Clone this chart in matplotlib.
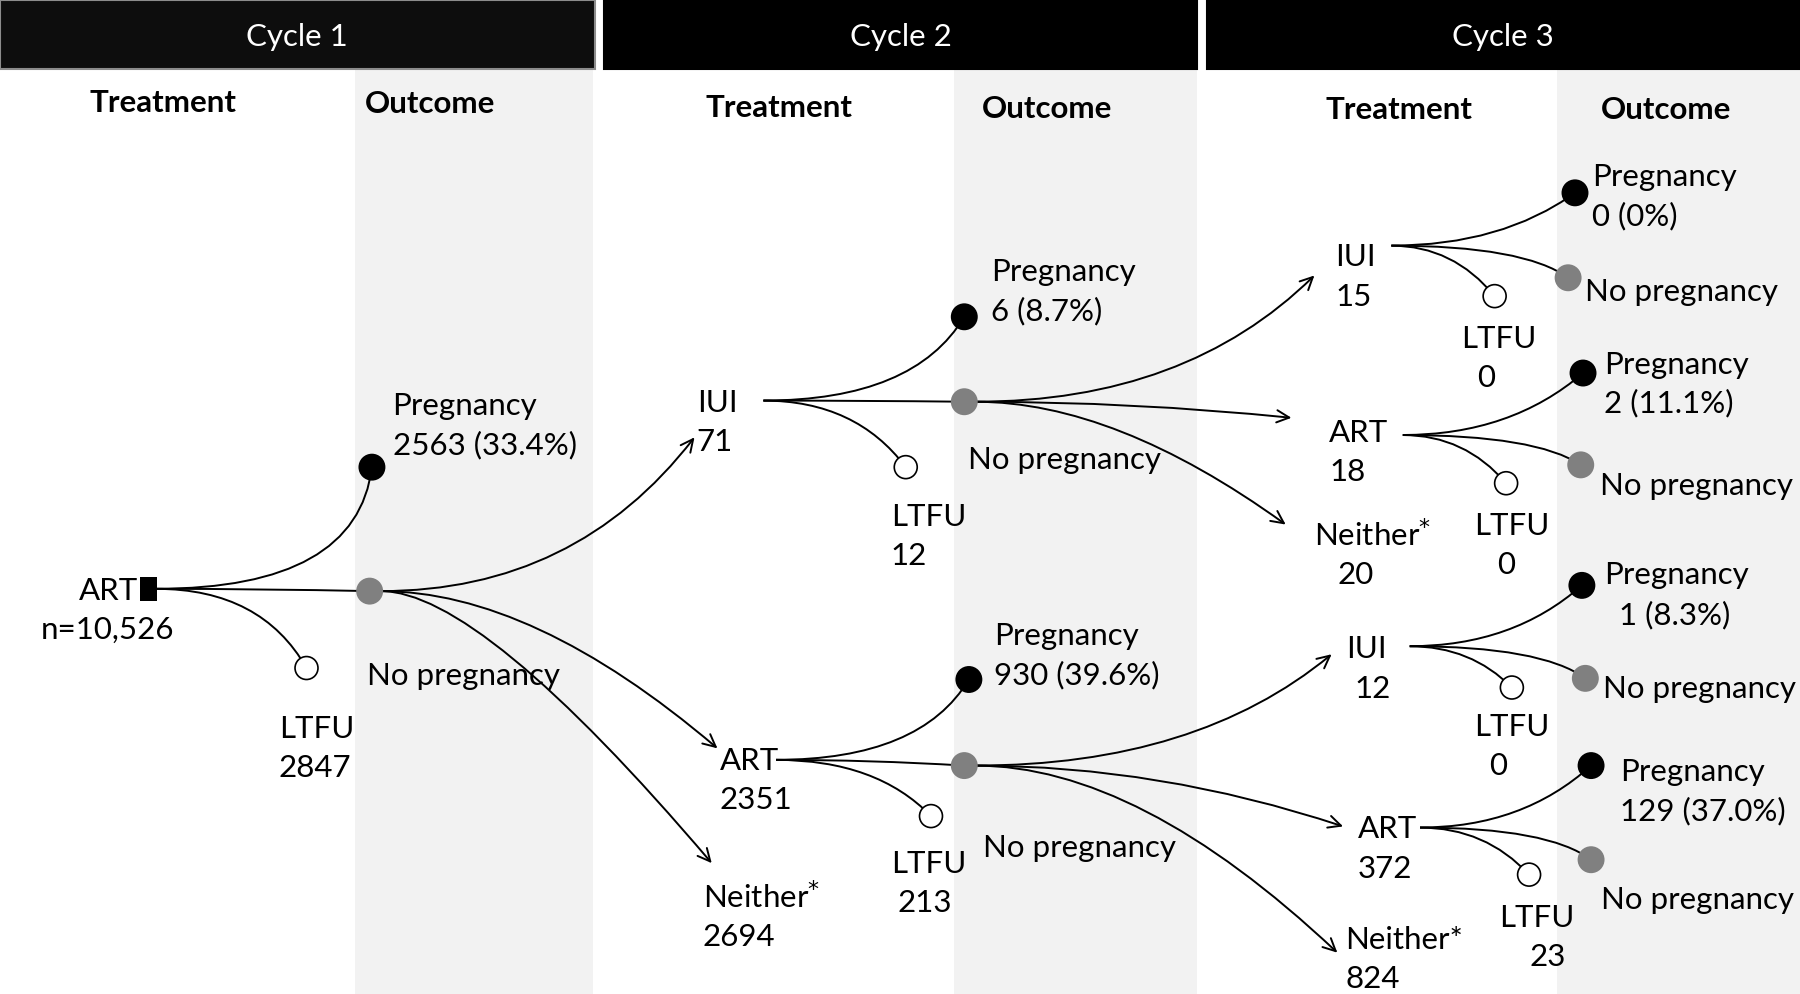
import matplotlib
matplotlib.use("Agg")
import matplotlib.pyplot as plt
from matplotlib.patches import Rectangle, Circle, FancyArrowPatch, PathPatch
from matplotlib.path import Path

plt.rcParams["font.family"] = ["Lato", "DejaVu Sans"]

# ---- data -------------------------------------------------------------
cycles = ["Cycle 1", "Cycle 2", "Cycle 3"]
start_n = 10526
c1_preg, c1_pct, c1_ltfu = 2563, 33.4, 2847

c2_treat = ["IUI", "ART", "Neither$^{*}$"]
c2_n = [71, 2351, 2694]
c2_preg = [6, 930]
c2_pct = [8.7, 39.6]
c2_ltfu = [12, 213]

c3_treat = ["IUI", "ART", "Neither$^{*}$", "IUI", "ART", "Neither*"]
c3_n = [15, 18, 20, 12, 372, 824]
c3_preg = [0, 2, 1, 129]
c3_pct = ["0%", "11.1%", "8.3%", "37.0%"]
c3_ltfu = [0, 0, 0, 23]

# ---- layout (reference pixel grid 1568 x 866) -------------------------
FS = 22.5
fig = plt.figure(figsize=(18, 9.94), dpi=100)
ax = fig.add_axes([0, 0, 1, 1])
ax.set_xlim(0, 1568)
ax.set_ylim(866, 0)
ax.axis("off")

bars = [(0, 518), (526, 1043), (1051, 1568)]
bands = [(309, 517), (831, 1043), (1356, 1568)]
for (x0, x1), name in zip(bars, cycles):
    ec = "#8c8c8c" if name == "Cycle 1" else "black"
    fc = "#0d0d0d" if name == "Cycle 1" else "black"
    ax.add_patch(Rectangle((x0, 0), x1 - x0, 60, fc=fc, ec=ec, lw=1.5, zorder=2))
    ax.text((x0 + x1) / 2, 32, name, color="white", fontsize=FS,
            ha="center", va="center", zorder=3)
for x0, x1 in bands:
    ax.add_patch(Rectangle((x0, 61), x1 - x0, 866 - 61, fc="#f2f2f2",
                           ec="none", zorder=0))

heads = [(142, 90, 375, 91), (679, 94, 912, 95), (1219, 96, 1451, 96)]
for tx, ty, ox, oy in heads:
    ax.text(tx, ty, "Treatment", fontsize=FS, fontweight="bold",
            ha="center", va="center")
    ax.text(ox, oy, "Outcome", fontsize=FS, fontweight="bold",
            ha="center", va="center")


def curve(p0, p1, k=0.6, arrow=False):
    (x0, y0), (x1, y1) = p0, p1
    c = (x0 + k * (x1 - x0), y0)
    path = Path([p0, c, p1], [Path.MOVETO, Path.CURVE3, Path.CURVE3])
    if arrow:
        ax.add_patch(FancyArrowPatch(path=path, arrowstyle="->,head_length=0.45,head_width=0.22",
                                     mutation_scale=20, lw=1.4, color="black", zorder=1))
    else:
        ax.add_patch(PathPatch(path, fc="none", ec="black", lw=1.4, zorder=1))


def dot(p, kind, r=11):
    fc = {"preg": "black", "nopreg": "#808080", "ltfu": "white"}[kind]
    ec = "black" if kind == "ltfu" else fc
    ax.add_patch(Circle(p, r if kind != "ltfu" else 10, fc=fc, ec=ec, lw=1.2, zorder=4))


def txt(x, y, s, ha="left"):
    ax.text(x, y, s, fontsize=FS, ha=ha, va="center", zorder=5)


def branch(start, preg, nopreg, ltfu, kp=0.8, kl=0.6, kn=0.5):
    curve(start, preg, kp)
    curve(start, ltfu, kl)
    curve(start, nopreg, kn)
    dot(preg, "preg")
    dot(nopreg, "nopreg")
    dot(ltfu, "ltfu")


# ---- cycle 1 ----------------------------------------------------------
branch((136, 513), (324, 407), (322, 515), (267, 582), kp=0.93, kl=0.7)
ax.add_patch(Rectangle((122, 503), 15, 21, fc="black", ec="none", zorder=4))
txt(120, 515, "ART", ha="right")
txt(94, 549, f"n={start_n:,}", ha="center")
txt(342, 354, "Pregnancy")
txt(342, 388, f"{c1_preg} ({c1_pct}%)")
txt(320, 589, "No pregnancy")
txt(243, 635, "LTFU")
txt(243, 669, f"{c1_ltfu}")

c1_src = (332, 515)
for tgt, k in zip([(605, 381), (625, 652), (620, 752)], [0.62, 0.45, 0.3]):
    curve(c1_src, tgt, k, arrow=True)

# ---- cycle 2 ----------------------------------------------------------
c2_lab = [(607, 351), (627, 663), (612, 782)]
for (x, y), t, n in zip(c2_lab, c2_treat, c2_n):
    txt(x, y, t)
    txt(x, y + 34, f"{n}")

c2_start = [(665, 349), (676, 662)]
c2_dots = [((840, 276), (840, 350), (789, 407)),
           ((844, 592), (840, 667), (811, 711))]
for s, (p, n, l) in zip(c2_start, c2_dots):
    branch(s, p, n, l, kp=0.75, kl=0.65, kn=0.5)

c2_preg_lab = [(863, 237), (866, 554)]
c2_nop_lab = [(843, 401), (856, 739)]
c2_ltfu_lab = [((776, 450), (776, 484)), ((776, 753), (782, 787))]
for i in range(2):
    x, y = c2_preg_lab[i]
    txt(x, y, "Pregnancy")
    txt(x, y + 34, f"{c2_preg[i]} ({c2_pct[i]}%)")
    txt(*c2_nop_lab[i], "No pregnancy")
    txt(*c2_ltfu_lab[i][0], "LTFU")
    txt(*c2_ltfu_lab[i][1], f"{c2_ltfu[i]}")

c2_src = [(850, 350), (850, 667)]
c2_tgts = [[(1145, 240), (1125, 364), (1120, 457)],
           [(1160, 570), (1170, 720), (1165, 830)]]
for s, tg in zip(c2_src, c2_tgts):
    for t, k in zip(tg, [0.62, 0.5, 0.45]):
        curve(s, t, k, arrow=True)

# ---- cycle 3 ----------------------------------------------------------
c3_lab = [((1163, 224), (1163, 259)), ((1158, 377), (1158, 411)),
          ((1145, 466), (1165, 501)), ((1173, 565), (1180, 600)),
          ((1183, 722), (1183, 757)), ((1172, 819), (1172, 853))]
for (a, b), t, n in zip(c3_lab, c3_treat, c3_n):
    txt(*a, t)
    txt(*b, f"{n}")

c3_start = [(1212, 214), (1222, 379), (1228, 563), (1237, 721)]
c3_dots = [((1372, 168), (1366, 242), (1302, 258)),
           ((1379, 325), (1377, 405), (1312, 421)),
           ((1378, 510), (1381, 591), (1317, 599)),
           ((1386, 667), (1386, 749), (1332, 762))]
for s, (p, n, l) in zip(c3_start, c3_dots):
    branch(s, p, n, l, kp=0.6, kl=0.6, kn=0.75)

c3_preg_lab = [((1387, 154), (1387, 188)), ((1397, 318), (1397, 351)),
               ((1397, 501), (1410, 536)), ((1411, 673), (1411, 707))]
c3_nop_lab = [(1381, 254), (1394, 423), (1396, 600), (1395, 784)]
c3_ltfu_lab = [((1273, 295), (1287, 329)), ((1284, 458), (1304, 492)),
               ((1284, 633), (1297, 667)), ((1306, 800), (1332, 834))]
for i in range(4):
    a, b = c3_preg_lab[i]
    txt(*a, "Pregnancy")
    txt(*b, f"{c3_preg[i]} ({c3_pct[i]})")
    txt(*c3_nop_lab[i], "No pregnancy")
    txt(*c3_ltfu_lab[i][0], "LTFU")
    txt(*c3_ltfu_lab[i][1], f"{c3_ltfu[i]}")

fig.savefig("out.png", dpi=100)
